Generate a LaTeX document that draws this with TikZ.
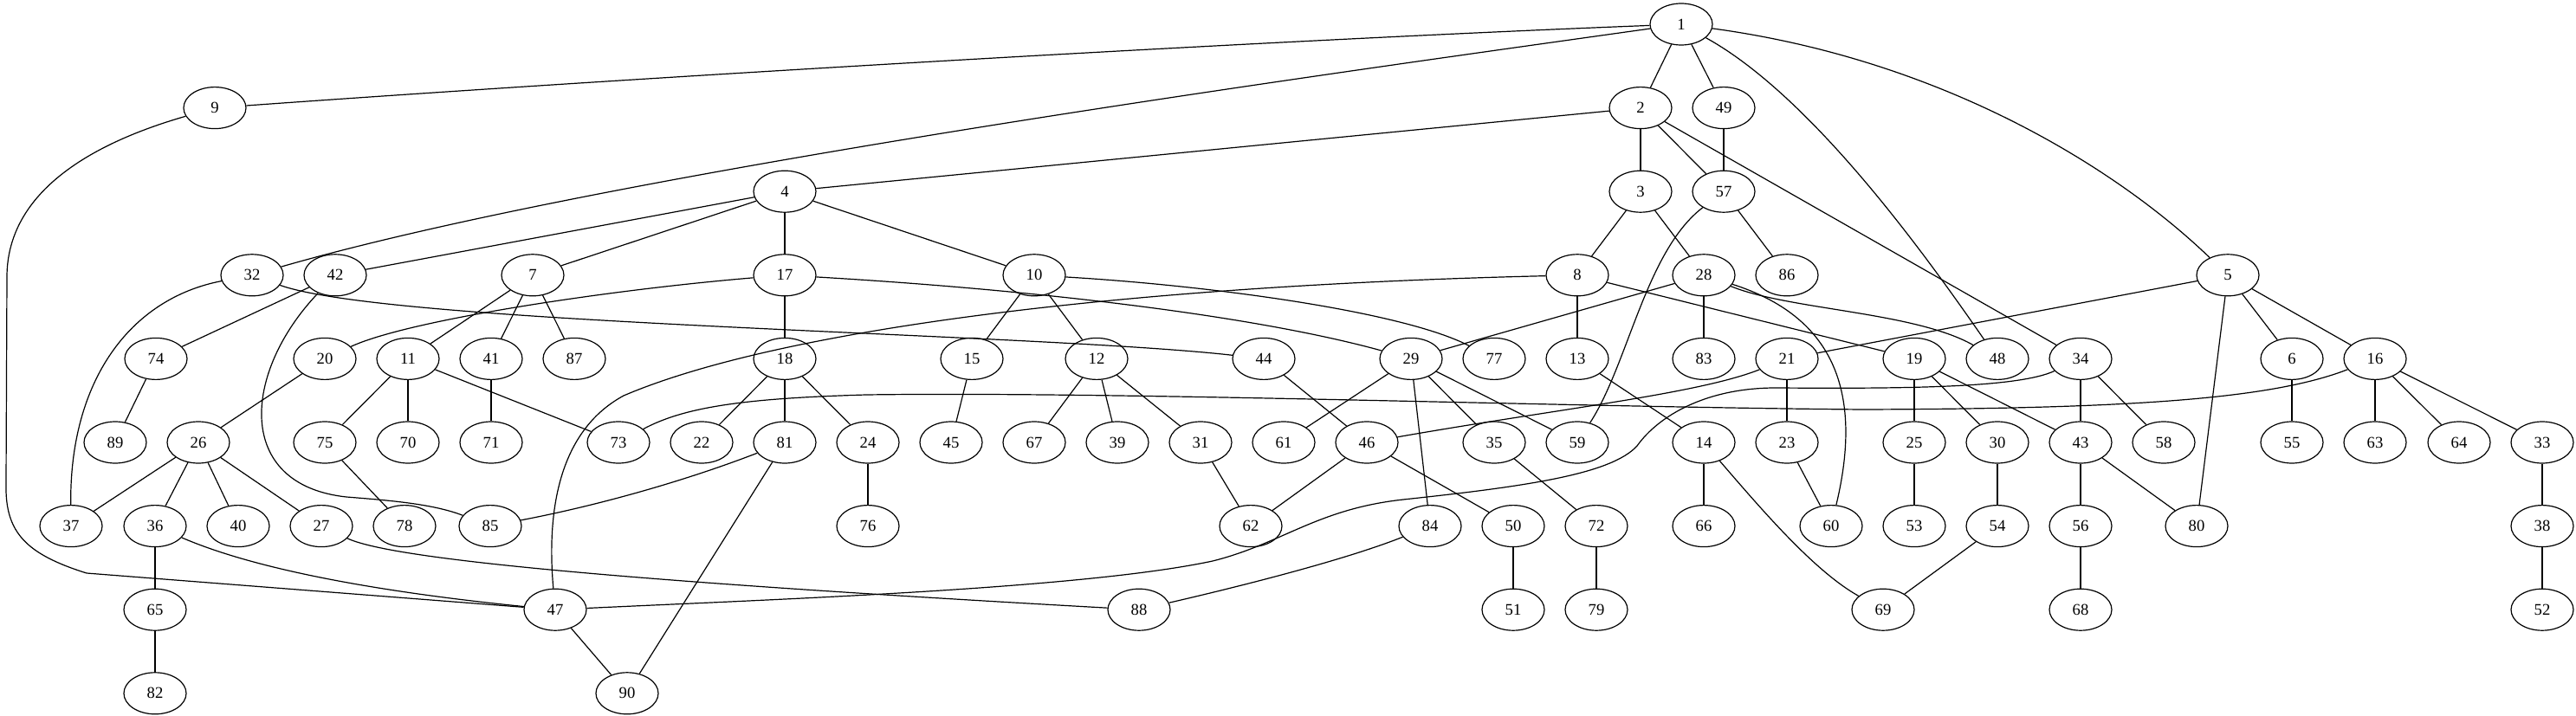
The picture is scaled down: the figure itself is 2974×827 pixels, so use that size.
\documentclass[tikz,border=0pt]{standalone}
\usepackage{fontspec}
\setmainfont{Liberation Serif}
\usetikzlibrary{shapes.geometric}

\begin{document}
\begin{tikzpicture}[x=0.75pt,y=-0.75pt,line width=0.9pt,
    vtx/.style={draw,ellipse,minimum width=54pt,minimum height=36pt,inner sep=0pt,
        font=\fontsize{14}{16}\selectfont}]
        \useasboundingbox (0,0) rectangle (2974,827);
        \foreach \n/\x in {1/1941} \node[vtx] (n\n) at (\x,28) {\n};
        \foreach \n/\x in {9/248,2/1894,49/1990} \node[vtx] (n\n) at (\x,124.6) {\n};
        \foreach \n/\x in {4/906,3/1894,57/1990} \node[vtx] (n\n) at (\x,221.2) {\n};
        \foreach \n/\x in {32/291,42/387,7/615,17/906,10/1194,8/1821,28/1967,86/2063,5/2572}
            \node[vtx] (n\n) at (\x,317.8) {\n};
        \foreach \n/\x in {74/180,20/375,11/471,41/567,87/663,18/906,15/1122,12/1266,44/1459,
            29/1629,77/1725,13/1821,83/1967,21/2063,19/2210,48/2306,34/2402,6/2646,16/2742}
            \node[vtx] (n\n) at (\x,414.4) {\n};
        \foreach \n/\x in {89/133,26/229,75/375,70/471,71/567,73/714,22/810,81/906,24/1002,
            45/1098,67/1194,39/1290,31/1386,61/1482,46/1578,35/1725,59/1821,14/1967,23/2063,
            25/2210,30/2306,43/2402,58/2498,55/2646,63/2742,64/2839,33/2935}
            \node[vtx] (n\n) at (\x,511) {\n};
        \foreach \n/\x in {37/82,36/179,40/275,27/371,78/467,85/566,76/1002,62/1444,84/1651,
            50/1747,72/1843,66/1967,60/2114,53/2210,54/2306,56/2402,80/2536,38/2935}
            \node[vtx] (n\n) at (\x,607.6) {\n};
        \foreach \n/\x in {65/179,47/641,88/1315,51/1747,79/1843,69/2174,68/2402,52/2935}
            \node[vtx] (n\n) at (\x,704.2) {\n};
        \foreach \n/\x in {82/179,90/724} \node[vtx] (n\n) at (\x,800.8) {\n};

        \foreach \a/\b in {1/2,1/49,2/3,2/4,2/57,2/34,49/57,57/86,3/8,3/28,4/42,4/7,4/17,4/10,
            7/11,7/41,7/87,17/18,10/15,10/12,8/13,8/19,28/83,28/29,5/21,5/6,5/16,5/80,42/74,
            74/89,20/26,11/75,11/70,11/73,41/71,18/22,18/81,18/24,15/45,12/67,12/39,12/31,
            44/46,29/61,29/35,29/59,29/84,13/14,21/23,19/25,19/30,19/43,34/43,34/58,6/55,
            16/63,16/64,16/33,26/37,26/36,26/40,26/27,75/78,81/90,24/76,31/62,46/62,46/50,
            35/72,14/66,23/60,25/53,30/54,43/56,43/80,33/38,36/65,50/51,72/79,54/69,56/68,
            38/52,65/82,47/90}
            \draw (n\a) -- (n\b);

        \draw (n9) .. controls (800,85) and (1500,45) .. (n1);
        \draw (n1) .. controls (1500,90) and (700,200) .. (n32);
        \draw (n1) .. controls (2090,110) and (2220,290) .. (n48);
        \draw (n1) .. controls (2250,70) and (2450,200) .. (n5);
        \draw (n9) .. controls (90,170) and (8,230) .. (8,320) -- (7,560)
            .. controls (6,615) and (30,640) .. (100,662) -- (n47);
        \draw (n32) .. controls (150,345) and (80,440) .. (n37);
        \draw (n32) .. controls (450,375) and (1200,385) .. (n44);
        \draw (n42) .. controls (280,430) and (270,560) .. (400,574)
            .. controls (450,578) and (500,582) .. (n85);
        \draw (n17) .. controls (700,335) and (470,370) .. (n20);
        \draw (n17) .. controls (1200,335) and (1450,365) .. (n29);
        \draw (n10) .. controls (1400,330) and (1620,360) .. (n77);
        \draw (n8) .. controls (1300,330) and (900,380) .. (720,457)
            .. controls (650,495) and (630,580) .. (n47);
        \draw (n28) .. controls (2065,358) and (2210,360) .. (n48);
        \draw (n28) .. controls (2115,365) and (2152,450) .. (n60);
        \draw (n57) .. controls (1900,290) and (1880,420) .. (n59);
        \draw (n21) .. controls (1960,455) and (1800,472) .. (n46);
        \draw (n34) .. controls (2330,448) and (2200,449) .. (2050,448)
            .. controls (1970,448) and (1915,480) .. (1890,515)
            .. controls (1860,548) and (1760,562) .. (1620,577)
            .. controls (1520,588) and (1480,628) .. (1400,648)
            .. controls (1250,680) and (900,692) .. (n47);
        \draw (n16) .. controls (2620,462) and (2450,472) .. (2150,473)
            .. controls (1800,470) and (1300,452) .. (1000,456)
            .. controls (860,460) and (790,470) .. (n73);
        \draw (n14) .. controls (2035,590) and (2095,660) .. (n69);
        \draw (n27) .. controls (450,645) and (700,670) .. (n88);
        \draw (n36) .. controls (300,660) and (450,685) .. (n47);
        \draw (n84) .. controls (1550,648) and (1420,680) .. (n88);
        \draw (n81) .. controls (800,552) and (700,582) .. (n85);
    \end{tikzpicture}
\end{document}
